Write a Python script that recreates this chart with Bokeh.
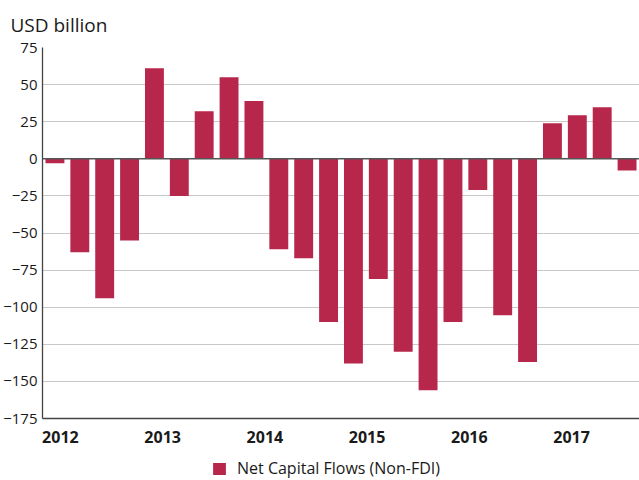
from bokeh.plotting import figure
from bokeh.layouts import column
from bokeh.models import (ColumnDataSource, FixedTicker, Span, Legend, LegendItem, Range1d)
from bokeh.embed import file_html
from bokeh.resources import INLINE

quarters = ["2012Q1", "2012Q2", "2012Q3", "2012Q4",
            "2013Q1", "2013Q2", "2013Q3", "2013Q4",
            "2014Q1", "2014Q2", "2014Q3", "2014Q4",
            "2015Q1", "2015Q2", "2015Q3", "2015Q4",
            "2016Q1", "2016Q2", "2016Q3", "2016Q4",
            "2017Q1", "2017Q2", "2017Q3", "2017Q4"]
net_flows = [-3, -63, -94, -55,
             61, -25, 32, 55,
             39, -61, -67, -110,
             -138, -81, -130, -156,
             -110, -21, -105.5, -137,
             24, 29.3, 34.7, -7.8]
year_labels = ["2012", "2013", "2014", "2015", "2016", "2017"]
y_ticks = [75, 50, 25, 0, -25, -50, -75, -100, -125, -150, -175]
series_name = "Net Capital Flows (Non-FDI)"
unit_title = "USD billion"

FONT = "Open Sans"
BAR = "#B7274B"
W = 639

src = ColumnDataSource(dict(x=list(range(len(quarters))), q=quarters, v=net_flows))

p = figure(width=W, height=448, output_backend="svg", toolbar_location=None,
           x_range=Range1d(-0.5, len(quarters) - 0.5), y_range=Range1d(-175, 75),
           min_border_left=42, min_border_right=0, min_border_top=47, min_border_bottom=30)
p.outline_line_color = None
p.background_fill_color = "white"

r = p.vbar(x="x", top="v", bottom=0, width=0.76, source=src, color=BAR, line_color=None)

# title
p.title.text = unit_title
p.title.text_font = FONT
p.title.text_font_size = "19px"
p.title.text_font_style = "normal"
p.title.text_color = "#1a1a1a"
p.title.align = "left"
p.title.offset = -32
p.title.standoff = 19

# y axis
p.yaxis.ticker = FixedTicker(ticks=y_ticks)
p.yaxis.major_label_text_font = FONT
p.yaxis.major_label_text_font_size = "15px"
p.yaxis.major_label_text_color = "#1a1a1a"
p.yaxis.major_tick_line_color = None
p.yaxis.major_tick_out = 0
p.yaxis.minor_tick_line_color = None
p.yaxis.major_label_standoff = 5
p.yaxis.axis_line_color = "#444444"
p.yaxis.axis_line_width = 1.3

# x axis with year labels
year_ticks = [0.22 + 4.11 * i for i in range(len(year_labels))]
p.xaxis.ticker = FixedTicker(ticks=year_ticks)
p.xaxis.major_label_overrides = {t: lab for t, lab in zip(year_ticks, year_labels)}
p.xaxis.major_label_text_font = FONT
p.xaxis.major_label_text_font_size = "16px"
p.xaxis.major_label_text_font_style = "bold"
p.xaxis.major_label_text_color = "#1a1a1a"
p.xaxis.major_tick_line_color = None
p.xaxis.major_tick_out = 0
p.xaxis.minor_tick_line_color = None
p.xaxis.major_label_standoff = 12
p.xaxis.axis_line_color = "#444444"
p.xaxis.axis_line_width = 1.3

p.xgrid.grid_line_color = None
p.ygrid.ticker = FixedTicker(ticks=y_ticks)
p.ygrid.grid_line_color = "#c8c8c8"
p.ygrid.grid_line_width = 1.2

zero = Span(location=0, dimension="width", line_color="#555555", line_width=1.6)
p.add_layout(zero)

# legend strip below the chart
lg = figure(width=W, height=32, output_backend="svg", toolbar_location=None,
            x_range=Range1d(0, 1), y_range=Range1d(0, 1),
            x_axis_type=None, y_axis_type=None,
            min_border_left=0, min_border_right=0, min_border_top=0, min_border_bottom=0)
lg.grid.visible = False
lg.outline_line_color = None
dummy = lg.vbar(x=[-5], top=[-5], bottom=[-6], width=0.1, color=BAR, line_color=None)
legend = Legend(items=[LegendItem(label=series_name, renderers=[dummy])],
                orientation="horizontal", location=(169, 1),
                border_line_color=None, background_fill_alpha=0,
                label_text_font=FONT, label_text_font_size="16px", label_text_color="#1a1a1a",
                glyph_width=16, glyph_height=15, padding=0, margin=0, label_standoff=10,
                label_height=15)
lg.add_layout(legend)

layout = column(p, lg, spacing=0)
open("out.html", "w").write(file_html(layout, INLINE))
